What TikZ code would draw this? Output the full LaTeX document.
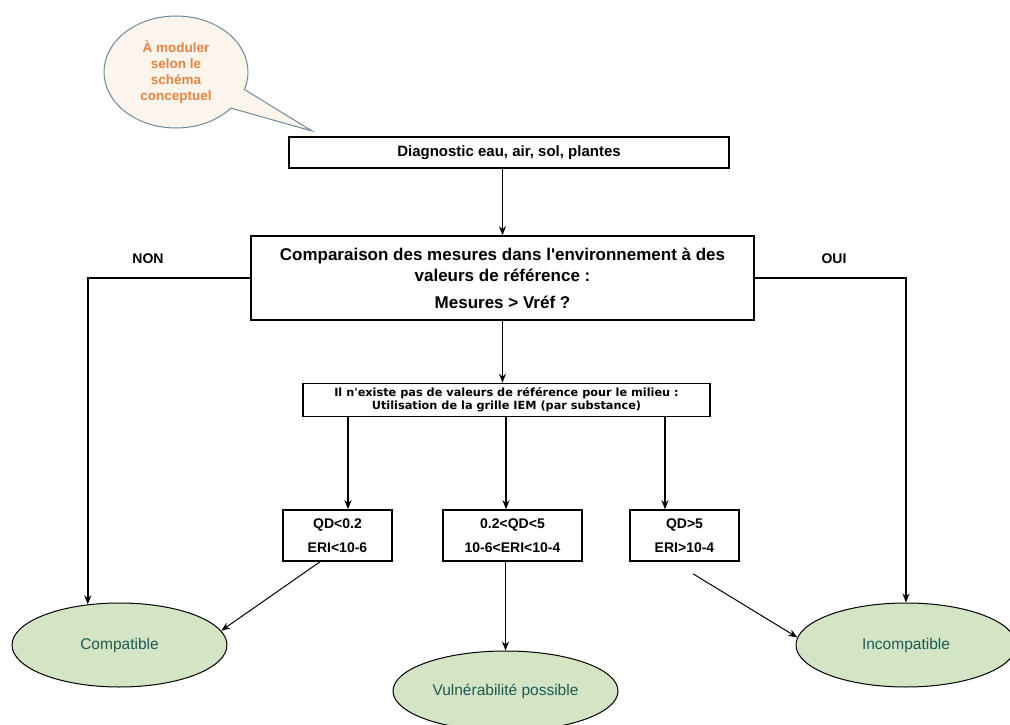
\documentclass[tikz,border=0pt]{standalone}
\usepackage{fontspec}
\setmainfont{Liberation Sans}[Ligatures=TeXOff]
\newfontfamily\verdanalike{DejaVu Sans}
\usetikzlibrary{shapes.geometric,shapes.callouts,arrows.meta}

\definecolor{feuille}{HTML}{D3E5C5}
\definecolor{sarcelle}{HTML}{1E5A52}
\definecolor{bulle}{HTML}{FCF5EC}
\definecolor{bulletrait}{HTML}{6C8A99}
\definecolor{orangetxt}{HTML}{E3843F}

\begin{document}
\begin{tikzpicture}[
            x=1pt, y=-1pt,                % 1 unit = 1 pixel, y downwards
            >={Stealth[length=9pt,width=7pt]},
            box/.style={
                rectangle,
                draw,
                line width=1.6pt,
                align=center,
                inner sep=0pt
            },
            result/.style={
                ellipse,
                draw,
                line width=1pt,
                fill=feuille,
                text=sarcelle,
                inner sep=0pt,
                font=\fontsize{15.5}{18}\selectfont
            },
            choice/.style={font=\bfseries\fontsize{14}{16}\selectfont},
            arrow/.style={->, line width=1.5pt}
        ]
            \useasboundingbox (0,0) rectangle (1010,725);

            % bulle
            \node[ellipse callout, draw=bulletrait, fill=bulle, line width=1pt,
                  minimum width=144pt, minimum height=112pt,
                  callout absolute pointer={(312,131)}, callout pointer arc=22,
                  text=orangetxt, align=center,
                  font=\bfseries\fontsize{13.5}{16}\selectfont] (bulle) at (176,72)
                  {À moduler\\selon le\\schéma\\conceptuel};

            % boîtes
            \node[box, minimum width=440pt, minimum height=31pt,
                  font=\bfseries\fontsize{15}{17}\selectfont] (diag) at (509,152.5)
                  {Diagnostic eau, air, sol, plantes};
            \node[box, minimum width=503pt, minimum height=84pt,
                  font=\bfseries\fontsize{17}{21}\selectfont] (comp) at (502.5,278)
                  {Comparaison des mesures dans l'environnement à des\\valeurs de référence :\\[6pt]Mesures > Vréf ?};
            \node[box, minimum width=407pt, minimum height=33pt,
                  font=\verdanalike\bfseries\fontsize{11.3}{13}\selectfont] (iem) at (506.5,400)
                  {Il n'existe pas de valeurs de référence pour le milieu :\\Utilisation de la grille IEM (par substance)};
            \node[box, minimum width=109pt, minimum height=51pt,
                  font=\bfseries\fontsize{14}{16}\selectfont] (q1) at (337.5,535.5)
                  {QD<0.2\\[8pt]ERI<10-6};
            \node[box, minimum width=139pt, minimum height=51pt,
                  font=\bfseries\fontsize{14}{16}\selectfont] (q2) at (512.5,535.5)
                  {0.2<QD<5\\[8pt]10-6<ERI<10-4};
            \node[box, minimum width=109pt, minimum height=51pt,
                  font=\bfseries\fontsize{14}{16}\selectfont] (q3) at (684.5,535.5)
                  {QD>5\\[8pt]ERI>10-4};

            % étiquettes
            \node[choice] (non) at (148,259) {NON};
            \node[choice] (oui) at (834,259) {OUI};

            % conclusions
            \node[result, minimum width=215pt, minimum height=84pt] (compat) at (119.5,645) {Compatible};
            \node[result, minimum width=225pt, minimum height=80pt] (vuln) at (505.5,691) {Vulnérabilité possible};
            \node[result, minimum width=220pt, minimum height=84pt] (incomp) at (906,645) {Incompatible};

            \coordinate (t1) at ([xshift=10.5pt]q1.north);
            \coordinate (t2) at ([xshift=-6.5pt]q2.north);
            \coordinate (t3) at ([xshift=-19.5pt]q3.north);
            \coordinate (d1) at ([xshift=-17.5pt]q1.south);
            \coordinate (d3) at ([xshift=8.5pt,yshift=-12pt]q3.south);

            % flèches
            \draw[arrow] (comp.north |- diag.south) -- (comp.north);
            \draw[arrow] (comp.south) -- (comp.south |- iem.north);
            \draw[arrow] (t1 |- iem.south) -- (t1);
            \draw[arrow] (t2 |- iem.south) -- (t2);
            \draw[arrow] (t3 |- iem.south) -- (t3);
            \draw[arrow] (vuln.north |- q2.south) -- (vuln.north);
            \draw[arrow] (comp.west) -| (compat.128);
            \draw[arrow] (comp.east) -| (incomp.north);
            \draw[arrow, line width=1pt] (d1) -- (compat.8);
            \draw[arrow, line width=1pt] (d3) -- (incomp.176);
        \end{tikzpicture}
\end{document}
